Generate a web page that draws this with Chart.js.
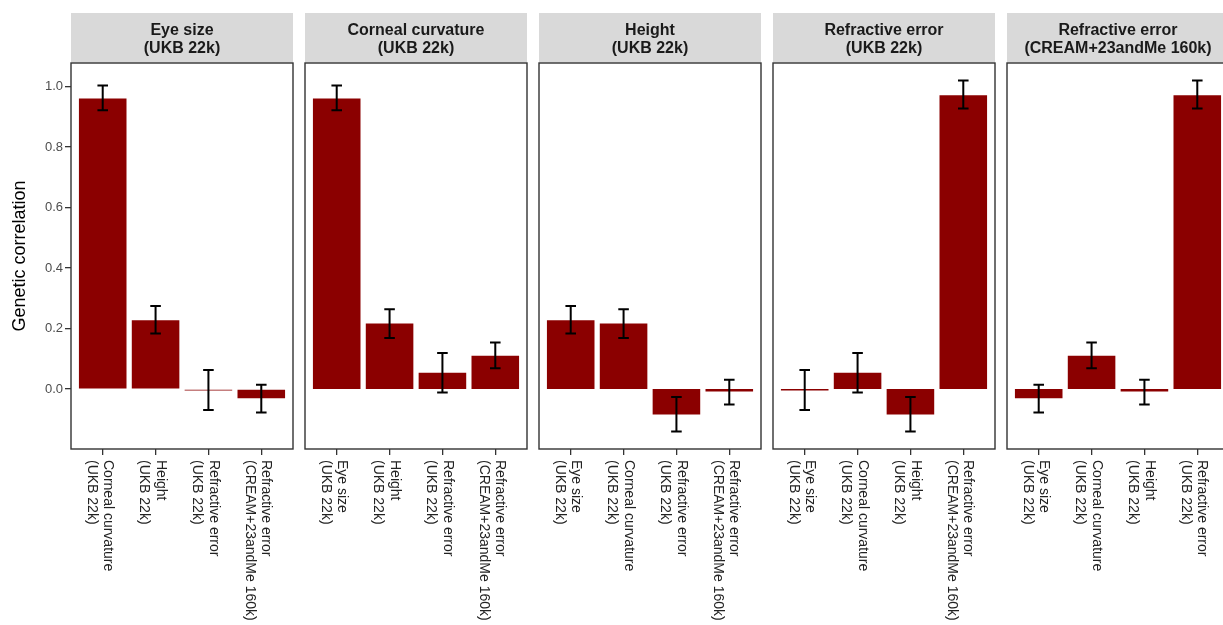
<!DOCTYPE html>
<html>
<head>
<meta charset="utf-8">
<script src="https://cdn.jsdelivr.net/npm/chart.js@4/dist/chart.umd.min.js"></script>
<style>
  html, body { margin: 0; padding: 0; background: #fff; }
  #wrap { position: relative; width: 1223px; height: 625px; overflow: hidden; background: #fff; }
  #wrap canvas { position: absolute; top: 0; }
</style>
</head>
<body>
<div id="wrap"></div>
<script>
// ---------- data ----------
const panelTitles = [
  ["Eye size", "(UKB 22k)"],
  ["Corneal curvature", "(UKB 22k)"],
  ["Height", "(UKB 22k)"],
  ["Refractive error", "(UKB 22k)"],
  ["Refractive error", "(CREAM+23andMe 160k)"]
];

const eyeCats = [["Corneal curvature", "(UKB 22k)"], ["Height", "(UKB 22k)"], ["Refractive error", "(UKB 22k)"], ["Refractive error", "(CREAM+23andMe 160k)"]];
const eyeRg   = [0.961, 0.228, -0.002, -0.030];
const eyeLo   = [0.922, 0.184, -0.069, -0.077];
const eyeHi   = [1.004, 0.275, 0.063, 0.014];

const cornCats = [["Eye size", "(UKB 22k)"], ["Height", "(UKB 22k)"], ["Refractive error", "(UKB 22k)"], ["Refractive error", "(CREAM+23andMe 160k)"]];
const cornRg   = [0.961, 0.217, 0.054, 0.110];
const cornLo   = [0.922, 0.169, -0.011, 0.069];
const cornHi   = [1.004, 0.264, 0.119, 0.154];

const heightCats = [["Eye size", "(UKB 22k)"], ["Corneal curvature", "(UKB 22k)"], ["Refractive error", "(UKB 22k)"], ["Refractive error", "(CREAM+23andMe 160k)"]];
const heightRg   = [0.228, 0.217, -0.084, -0.008];
const heightLo   = [0.184, 0.169, -0.140, -0.051];
const heightHi   = [0.275, 0.264, -0.026, 0.031];

const refUkbCats = [["Eye size", "(UKB 22k)"], ["Corneal curvature", "(UKB 22k)"], ["Height", "(UKB 22k)"], ["Refractive error", "(CREAM+23andMe 160k)"]];
const refUkbRg   = [-0.002, 0.054, -0.084, 0.971];
const refUkbLo   = [-0.069, -0.011, -0.140, 0.928];
const refUkbHi   = [0.063, 0.119, -0.026, 1.020];

const refCreamCats = [["Eye size", "(UKB 22k)"], ["Corneal curvature", "(UKB 22k)"], ["Height", "(UKB 22k)"], ["Refractive error", "(UKB 22k)"]];
const refCreamRg   = [-0.030, 0.110, -0.008, 0.971];
const refCreamLo   = [-0.077, 0.069, -0.051, 0.928];
const refCreamHi   = [0.014, 0.154, 0.031, 1.020];

const yTicks = [0, 0.2, 0.4, 0.6, 0.8, 1.0];
const yTitle = "Genetic correlation";

// ---------- layout / style ----------
const FONT = "'Liberation Sans', Arial, Helvetica, sans-serif";
const BAR = "#8B0000";
const panels = [
  { title: panelTitles[0], cats: eyeCats, rg: eyeRg, lo: eyeLo, hi: eyeHi },
  { title: panelTitles[1], cats: cornCats, rg: cornRg, lo: cornLo, hi: cornHi },
  { title: panelTitles[2], cats: heightCats, rg: heightRg, lo: heightLo, hi: heightHi },
  { title: panelTitles[3], cats: refUkbCats, rg: refUkbRg, lo: refUkbLo, hi: refUkbHi },
  { title: panelTitles[4], cats: refCreamCats, rg: refCreamRg, lo: refCreamLo, hi: refCreamHi }
];
const allLo = Math.min(...panels.flatMap(p => p.lo));
const allHi = Math.max(...panels.flatMap(p => p.hi));
const span = allHi - allLo;
const yMin = allLo - 0.05 * span;
const yMax = allHi + 0.05 * span;

const panelLeft = [71, 305, 539, 773, 1007];
const panelW = 222;
const panelTop = 63;
const panelBottom = 449;
const H = 625;
const SIDE = 8;
const Y_AXIS_W = 71;

const stripPlugin = {
  id: 'strip',
  beforeDraw(chart, args, opts) {
    const { ctx, chartArea: ca } = chart;
    ctx.save();
    ctx.fillStyle = '#d9d9d9';
    ctx.fillRect(ca.left, 13, ca.right - ca.left, 49.5);
    ctx.fillStyle = '#1a1a1a';
    ctx.font = "bold 16px " + FONT;
    ctx.textAlign = 'center';
    ctx.textBaseline = 'middle';
    const cx = (ca.left + ca.right) / 2;
    ctx.fillText(opts.lines[0], cx, 30.5);
    ctx.fillText(opts.lines[1], cx, 48.3);
    ctx.restore();
  }
};

const errPlugin = {
  id: 'errbars',
  afterDatasetsDraw(chart, args, opts) {
    const { ctx, chartArea: ca } = chart;
    const xs = chart.scales.x, ys = chart.scales.y;
    ctx.save();
    ctx.strokeStyle = '#000';
    ctx.lineWidth = 2;
    opts.lo.forEach((lo, i) => {
      const hi = opts.hi[i];
      const xc = xs.getPixelForValue(i + 1);
      const xl = xs.getPixelForValue(i + 1 - 0.1);
      const xr = xs.getPixelForValue(i + 1 + 0.1);
      const yl = ys.getPixelForValue(lo);
      const yh = ys.getPixelForValue(hi);
      ctx.beginPath();
      ctx.moveTo(xc, yl); ctx.lineTo(xc, yh);
      ctx.moveTo(xl, yl); ctx.lineTo(xr, yl);
      ctx.moveTo(xl, yh); ctx.lineTo(xr, yh);
      ctx.stroke();
    });
    // panel border
    ctx.strokeStyle = '#333';
    ctx.lineWidth = 1.4;
    ctx.strokeRect(ca.left, ca.top, ca.right - ca.left, ca.bottom - ca.top);
    ctx.restore();
  }
};

const wrap = document.getElementById('wrap');

panels.forEach((p, i) => {
  const first = i === 0;
  const cLeft = first ? 0 : panelLeft[i] - SIDE;
  const cW = first ? Y_AXIS_W + panelW + SIDE : panelW + 2 * SIDE;
  const cv = document.createElement('canvas');
  cv.width = cW; cv.height = H;
  cv.style.left = cLeft + 'px';
  cv.style.width = cW + 'px';
  cv.style.height = H + 'px';
  wrap.appendChild(cv);

  new Chart(cv, {
    type: 'bar',
    data: {
      datasets: [{
        data: p.rg.map((v, k) => ({ x: k + 1, y: v })),
        backgroundColor: BAR,
        borderWidth: 0,
        barPercentage: 0.9,
        categoryPercentage: 1.0,
        minBarLength: 1.5
      }]
    },
    options: {
      responsive: false,
      animation: false,
      events: [],
      layout: { padding: { top: panelTop, bottom: 0, left: first ? 0 : SIDE, right: SIDE } },
      plugins: {
        legend: { display: false },
        tooltip: { enabled: false },
        strip: { lines: p.title },
        errbars: { lo: p.lo, hi: p.hi }
      },
      scales: {
        x: {
          type: 'linear',
          min: 0.4,
          max: 4.6,
          offset: false,
          afterBuildTicks: s => { s.ticks = p.cats.map((c, k) => ({ value: k + 1 })); },
          afterFit: s => {
            s.height = H - panelBottom;
            s.paddingLeft = 0;
            s.paddingRight = 0;
            s._getXAxisLabelAlignment = () => 'left';
          },
          afterUpdate: s => { s._getXAxisLabelAlignment = () => 'left'; },
          grid: { display: true, offset: false, drawOnChartArea: false, drawTicks: true, tickLength: 6, color: '#333', lineWidth: 1.3 },
          border: { display: false },
          ticks: {
            autoSkip: false,
            minRotation: -90,
            maxRotation: -90,
            padding: 5,
            labelOffset: 5,
            color: '#222',
            font: { family: FONT, size: 14, lineHeight: 1.16 },
            callback: (v) => p.cats[Math.round(v) - 1]
          }
        },
        y: {
          type: 'linear',
          display: first,
          min: yMin,
          max: yMax,
          afterBuildTicks: s => { s.ticks = yTicks.map(v => ({ value: v })); },
          afterFit: s => { s.width = first ? Y_AXIS_W : 0; },
          grid: { display: true, drawOnChartArea: false, drawTicks: true, tickLength: 6, color: '#333', lineWidth: 1.3 },
          border: { display: false },
          ticks: {
            padding: 2,
            color: '#4d4d4d',
            font: { family: FONT, size: 13 },
            callback: v => Number(v).toFixed(1)
          },
          title: {
            display: true,
            text: yTitle,
            color: '#000',
            font: { family: FONT, size: 18 },
            padding: { top: 9, bottom: 0 }
          }
        }
      }
    },
    plugins: [stripPlugin, errPlugin]
  });
});
</script>
</body>
</html>
